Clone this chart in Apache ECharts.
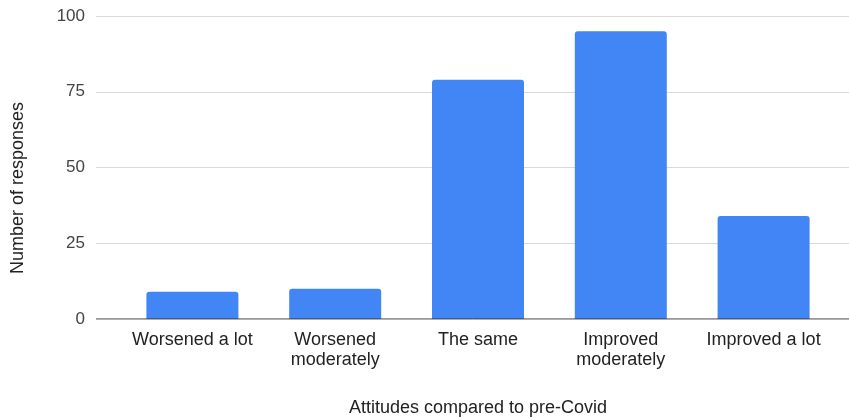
<!DOCTYPE html>
<html>
<head>
<meta charset="utf-8">
<script src="https://cdn.jsdelivr.net/npm/echarts@6/dist/echarts.min.js"></script>
<style>
  html, body { margin: 0; padding: 0; background: #fff; }
  #chart { width: 849px; height: 419px; }
</style>
</head>
<body>
<div id="chart"></div>
<script>
// Survey responses by change in attitude
const categories = ['Worsened a lot', 'Worsened\nmoderately', 'The same', 'Improved\nmoderately', 'Improved a lot'];
const responses = [9, 10, 79, 95, 34];
const yTicks = [0, 25, 50, 75, 100];

const FONT = '"Liberation Sans", Arial, sans-serif';
const chart = echarts.init(document.getElementById('chart'), null, { renderer: 'canvas' });

chart.setOption({
  backgroundColor: '#ffffff',
  animation: false,
  textStyle: { fontFamily: FONT },
  grid: [
    // full-width grid carrying the value gridlines and baseline
    { left: 96, right: 0, top: 16, bottom: 100, containLabel: false, outerBoundsMode: 'none' },
    // grid holding the category bands and bars
    { left: 121, right: 14, top: 16, bottom: 100, containLabel: false, outerBoundsMode: 'none' }
  ],
  graphic: [
    {
      type: 'text', x: 18, y: 188, rotation: Math.PI / 2,
      style: {
        text: 'Number of responses', fill: '#222', fontSize: 18, fontFamily: FONT,
        align: 'center', verticalAlign: 'middle'
      }
    }
  ],
  xAxis: [
    {
      gridIndex: 0, type: 'value', min: 0, max: 1, show: true,
      axisLine: { show: false }, axisTick: { show: false }, axisLabel: { show: false },
      splitLine: { show: false }
    },
    {
      gridIndex: 1, type: 'category', data: categories,
      axisLine: { show: false }, axisTick: { show: false },
      axisLabel: { color: '#222', fontSize: 18, lineHeight: 20, margin: 11, interval: 0, fontFamily: FONT },
      name: 'Attitudes compared to pre-Covid', nameLocation: 'middle', nameGap: 80,
      nameTextStyle: { color: '#222', fontSize: 18, fontFamily: FONT }
    }
  ],
  yAxis: [
    {
      gridIndex: 0, type: 'value', min: yTicks[0], max: yTicks[yTicks.length - 1], interval: 25,
      axisLine: { show: false }, axisTick: { show: false },
      axisLabel: { color: '#444', fontSize: 17, margin: 11, fontFamily: FONT },
      splitLine: {
        show: true,
        lineStyle: { color: '#d9d9d9', width: 1 }
      }
    },
    {
      gridIndex: 1, type: 'value', min: 0, max: 100, interval: 25, show: false
    }
  ],
  series: [
    {
      // baseline at zero across the full plotting width
      type: 'line', xAxisIndex: 0, yAxisIndex: 0,
      data: [[0, 0], [1, 0]], symbol: 'none', silent: true,
      lineStyle: { color: '#333', width: 1 }, z: 5
    },
    {
      type: 'bar', xAxisIndex: 1, yAxisIndex: 1,
      data: responses, barWidth: 92,
      itemStyle: { color: '#4285f4', borderRadius: [3, 3, 0, 0] },
      z: 3
    }
  ]
});
</script>
</body>
</html>
